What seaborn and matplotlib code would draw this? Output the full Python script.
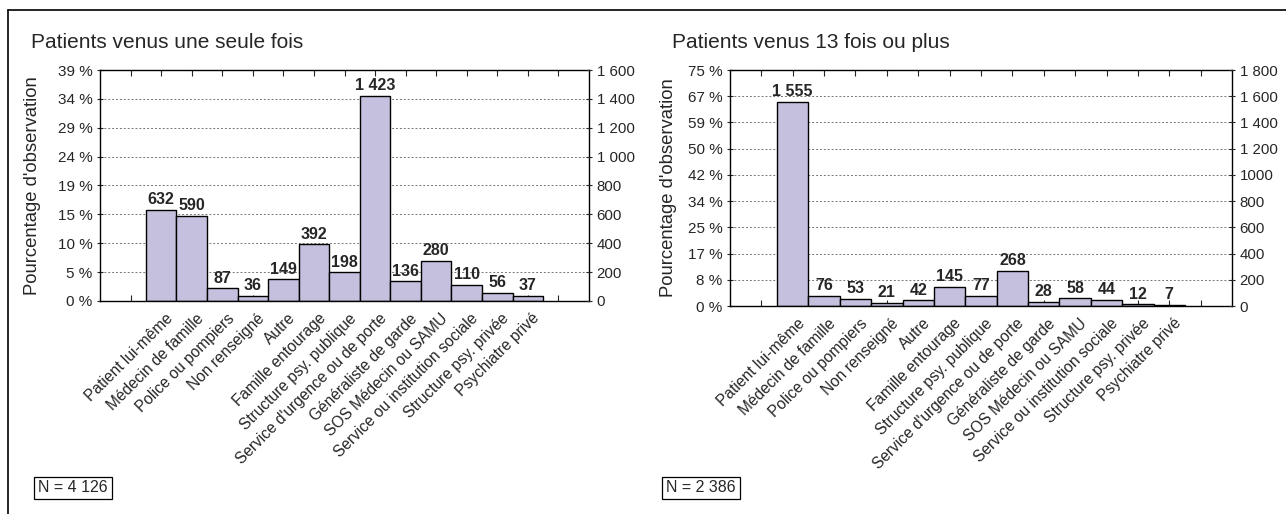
import numpy as np
import pandas as pd
import seaborn as sns
import matplotlib.pyplot as plt
from matplotlib.lines import Line2D
from matplotlib.transforms import ScaledTranslation

categories = ["Patient lui-même", "Médecin de famille", "Police ou pompiers",
              "Non renseigné", "Autre", "Famille entourage",
              "Structure psy. publique", "Service d'urgence ou de porte",
              "Généraliste de garde", "SOS Médecin ou SAMU",
              "Service ou institution sociale", "Structure psy. privée",
              "Psychiatre privé"]
once_counts = [632, 590, 87, 36, 149, 392, 198, 1423, 136, 280, 110, 56, 37]
plus13_counts = [1555, 76, 53, 21, 42, 145, 77, 268, 28, 58, 44, 12, 7]

once_title = "Patients venus une seule fois"
plus13_title = "Patients venus 13 fois ou plus"
once_n = "N = 4 126"
plus13_n = "N = 2 386"
once_count_ticks = [0, 200, 400, 600, 800, 1000, 1200, 1400, 1600]
once_count_labels = ["0", "200", "400", "600", "800", "1 000", "1 200", "1 400", "1 600"]
once_pct_labels = ["0 %", "5 %", "10 %", "15 %", "19 %", "24 %", "29 %", "34 %", "39 %"]
plus13_count_ticks = [0, 200, 400, 600, 800, 1000, 1200, 1400, 1600, 1800]
plus13_count_labels = ["0", "200", "400", "600", "800", "1000", "1 200", "1 400", "1 600", "1 800"]
plus13_pct_labels = ["0 %", "8 %", "17 %", "25 %", "34 %", "42 %", "50 %", "59 %", "67 %", "75 %"]

sns.set_style("white")
plt.rcParams['font.family'] = ['Liberation Sans', 'DejaVu Sans']

BAR = '#C4C0DE'
W, H = 1286, 514
fig = plt.figure(figsize=(W / 100, H / 100), dpi=100)


def panel(rect, counts, count_ticks, count_labels, pct_labels, title, ntext, title_x, ylab_x, nbox_x):
    ax = fig.add_axes(rect)
    df = pd.DataFrame({'cat': categories, 'n': counts})
    sns.barplot(data=df, x='cat', y='n', order=categories, color=BAR, width=1.0,
                edgecolor='black', linewidth=1.0, saturation=1, ax=ax)
    ax.set_xlim(-2, 14)
    ax.set_ylim(0, count_ticks[-1])
    for v in count_ticks[1:-1]:
        ax.axhline(v, color='#777777', lw=0.7, ls=(0, (2, 2)), zorder=0)
    ax.set_xticks(range(-1, 14))
    ax.set_xticklabels([''] + categories + [''], rotation=45, ha='right',
                       rotation_mode='anchor', fontsize=11.2)
    ax.tick_params(axis='x', direction='in', top=True, bottom=True, length=4,
                   width=0.8, pad=7)
    # decale un peu les etiquettes vers la droite
    shift = ScaledTranslation(4 / 100, 0, fig.dpi_scale_trans)
    for lab in ax.get_xticklabels():
        lab.set_transform(lab.get_transform() + shift)
    ax.set_yticks(count_ticks)
    ax.set_yticklabels(pct_labels, fontsize=11)
    ax.tick_params(axis='y', direction='inout', length=5, width=0.8, pad=3)
    ax.set_xlabel('')
    ax.set_ylabel("Pourcentage d'observation", fontsize=13.3)
    ax.yaxis.set_label_coords(ylab_x, 0.5)
    for s in ax.spines.values():
        s.set_visible(True)
        s.set_color('black')
        s.set_linewidth(1.0)
    for i, v in enumerate(counts):
        lab = f"{v:,}".replace(',', ' ')
        ax.text(i, v + count_ticks[-1] * 0.012, lab, ha='center', va='bottom',
                fontsize=11.5, fontweight='bold', fontstretch='condensed',
                family=['Liberation Sans Narrow', 'Liberation Sans'])
    ax2 = ax.twinx()
    ax2.set_ylim(0, count_ticks[-1])
    ax2.set_yticks(count_ticks)
    ax2.set_yticklabels(count_labels, fontsize=10.8)
    ax2.tick_params(axis='y', direction='inout', length=5, width=0.8, pad=3)
    for s in ax2.spines.values():
        s.set_visible(False)
    fig.text(title_x, 1 - 42 / H, title, fontsize=15, ha='left', va='center')
    fig.text(nbox_x, 1 - 488 / H, ntext, fontsize=11.5, ha='left', va='center',
             bbox=dict(boxstyle='square,pad=0.25', fc='white', ec='black', lw=0.9))
    return ax


panel([100 / W, 1 - 301 / H, 489 / W, 231 / H], once_counts, once_count_ticks,
      once_count_labels, once_pct_labels, once_title, once_n, 31 / W, -0.12, 38 / W)
panel([730 / W, 1 - 306 / H, 502 / W, 236 / H], plus13_counts, plus13_count_ticks,
      plus13_count_labels, plus13_pct_labels, plus13_title, plus13_n, 672 / W, -0.105, 666 / W)

# cadre autour de la figure
fig.add_artist(Line2D([8 / W, 1], [1 - 10 / H, 1 - 10 / H], color='black', lw=1.2))
fig.add_artist(Line2D([8 / W, 8 / W], [0, 1 - 10 / H], color='black', lw=1.2))

plt.savefig('out.png', dpi=100)
plt.close()
